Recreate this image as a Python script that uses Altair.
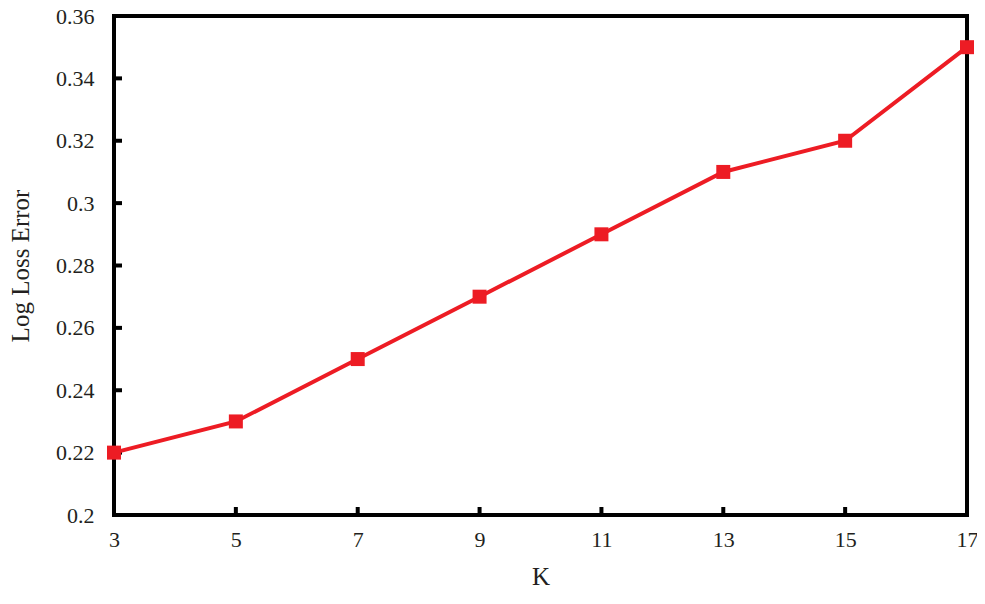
import altair as alt
import pandas as pd

k_values = [3, 5, 7, 9, 11, 13, 15, 17]
log_loss = [0.22, 0.23, 0.25, 0.27, 0.29, 0.31, 0.32, 0.35]
y_ticks = [0.2, 0.22, 0.24, 0.26, 0.28, 0.3, 0.32, 0.34, 0.36]
x_ticks = [3, 5, 7, 9, 11, 13, 15, 17]

W, H = 853, 499
RED = "#ED1C24"
FONT = "Liberation Serif"

df = pd.DataFrame({"K": k_values, "LogLoss": log_loss})
ydf = pd.DataFrame({"LogLoss": y_ticks})
xdf = pd.DataFrame({"K": x_ticks})

xscale = alt.Scale(domain=[3, 17], nice=False, zero=False)
yscale = alt.Scale(domain=[0.2, 0.36], nice=False, zero=False)

xaxis = alt.Axis(values=x_ticks, title="K", format="~g")
yaxis = alt.Axis(values=y_ticks, title="Log Loss Error", format="~g")

X = alt.X("K:Q", scale=xscale, axis=xaxis)
Y = alt.Y("LogLoss:Q", scale=yscale, axis=yaxis)

line = alt.Chart(df).mark_line(color=RED, strokeWidth=4).encode(x=X, y=Y)
pts = alt.Chart(df).mark_point(shape="square", filled=True, size=196, color=RED, opacity=1).encode(x=X, y=Y)

yt = alt.Chart(ydf).mark_rule(color="black", strokeWidth=4).encode(
    y=Y, x=alt.value(0), x2=alt.value(8)
)
xt = alt.Chart(xdf).mark_rule(color="black", strokeWidth=4).encode(
    x=X, y=alt.value(H), y2=alt.value(H - 8)
)

chart = alt.layer(yt, xt, line, pts).properties(
    width=W, height=H,
    autosize=alt.AutoSizeParams(type="none"),
    padding={"left": 106, "top": 8, "right": 10, "bottom": 76},
).configure_view(
    stroke="black", strokeWidth=4
).configure_axis(
    domain=False, grid=False, ticks=False, tickSize=0, labelFlush=False,
    labelFont=FONT, titleFont=FONT, labelFontSize=22, titleFontSize=25,
    labelColor="#231F20", titleColor="#231F20", titleFontWeight="normal",
).configure_axisY(
    labelPadding=20, titlePadding=22
).configure_axisX(
    labelPadding=14, titlePadding=14
)

chart.save("out.html", embed_options={"renderer": "svg", "actions": False})
